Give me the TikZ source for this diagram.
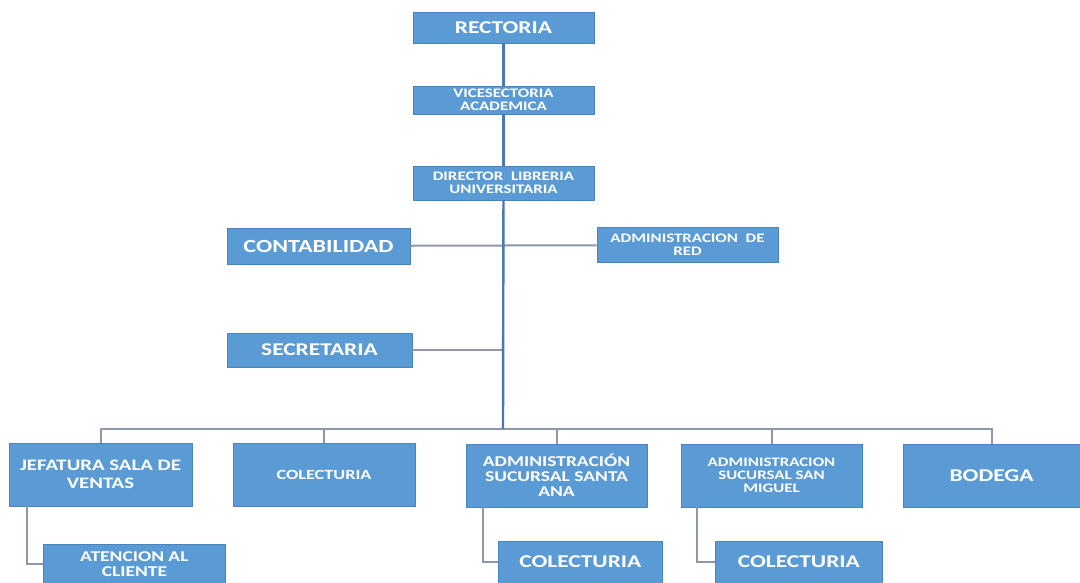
\documentclass[tikz,border=0pt]{standalone}
\usepackage{fontspec}
\setmainfont{Carlito}[FakeStretch=1.3]
\usepackage{tikz}

\definecolor{boxblue}{HTML}{5B9BD5}
\definecolor{boxedge}{HTML}{4A84BC}
\definecolor{trunkblue}{HTML}{4A78B0}
\definecolor{linkgray}{HTML}{8E98A8}

\newcommand{\boxfont}[1]{\fontsize{#1}{#1}\selectfont\bfseries}

\begin{document}
\begin{tikzpicture}[
  x=1pt, y=-1pt,
  unit/.style={rectangle, draw=boxedge, line width=0.8pt, fill=boxblue, text=white, align=center, inner sep=2pt, font=\boxfont{#1}},
  trunk/.style={draw=trunkblue, line width=2.4pt},
  link/.style={draw=linkgray, line width=2pt}
]
  \useasboundingbox (0,0) rectangle (1080,582);

  \node[unit=18, minimum width=181pt, minimum height=31pt] (rect) at (503.5,27.5) {RECTORIA};
  \node[unit=13, minimum width=181pt, minimum height=28pt] (vice) at (503.5,100) {VICESECTORIA\\ACADEMICA};
  \node[unit=13, minimum width=181pt, minimum height=34pt] (dir) at (503.5,183) {DIRECTOR\ \ LIBRERIA\\UNIVERSITARIA};

  \node[unit=18.5, minimum width=183pt, minimum height=36pt] (conta) at (318.5,246) {CONTABILIDAD};
  \node[unit=13, minimum width=181pt, minimum height=35pt] (admred) at (687.5,245) {ADMINISTRACION\ \ DE\\RED};
  \node[unit=18, minimum width=185pt, minimum height=34pt] (secre) at (319.5,350) {SECRETARIA};

  \node[unit=16, minimum width=183pt, minimum height=63pt] (jef) at (100.5,474.5) {JEFATURA SALA DE\\[2pt]VENTAS};
  \node[unit=14, minimum width=182pt, minimum height=63pt] (col) at (324,474.5) {COLECTURIA};
  \node[unit=15, minimum width=181pt, minimum height=63pt] (santa) at (556.5,475.5) {ADMINISTRACIÓN\\SUCURSAL SANTA\\ANA};
  \node[unit=13, minimum width=181pt, minimum height=63pt] (sanmig) at (771.5,475.5) {ADMINISTRACION\\SUCURSAL SAN\\MIGUEL};
  \node[unit=18, minimum width=177pt, minimum height=63pt] (bod) at (991.5,475.5) {BODEGA};

  \node[unit=15, minimum width=182pt, minimum height=40pt, anchor=west] (aten) at (43,564) {ATENCION AL\\CLIENTE};
  \node[unit=18, minimum width=164pt, minimum height=42pt, anchor=west] (colsa) at (498,562) {COLECTURIA};
  \node[unit=18, minimum width=167pt, minimum height=42pt, anchor=west] (colsm) at (715,562) {COLECTURIA};

  \coordinate (bus) at (503,429);

  \draw[link] (conta) -- (admred);
  \draw[link] (secre) -- (secre -| bus);

  \draw[link] (jef.north) |- (bus) -| (bod.north);
  \draw[link] (col.north) -- (col.north |- bus);
  \draw[link] (santa.north) -- (santa.north |- bus);
  \draw[link] (sanmig.north) -- (sanmig.north |- bus);

  \draw[link] ([xshift=18pt]jef.south west) |- (aten.west);
  \draw[link] ([xshift=17pt]santa.south west) |- (colsa.west);
  \draw[link] ([xshift=16pt]sanmig.south west) |- (colsm.west);

  \draw[trunk] (rect) -- (vice);
  \draw[trunk] (vice) -- (dir);
  \draw[trunk] (dir) -- (bus);
\end{tikzpicture}
\end{document}
